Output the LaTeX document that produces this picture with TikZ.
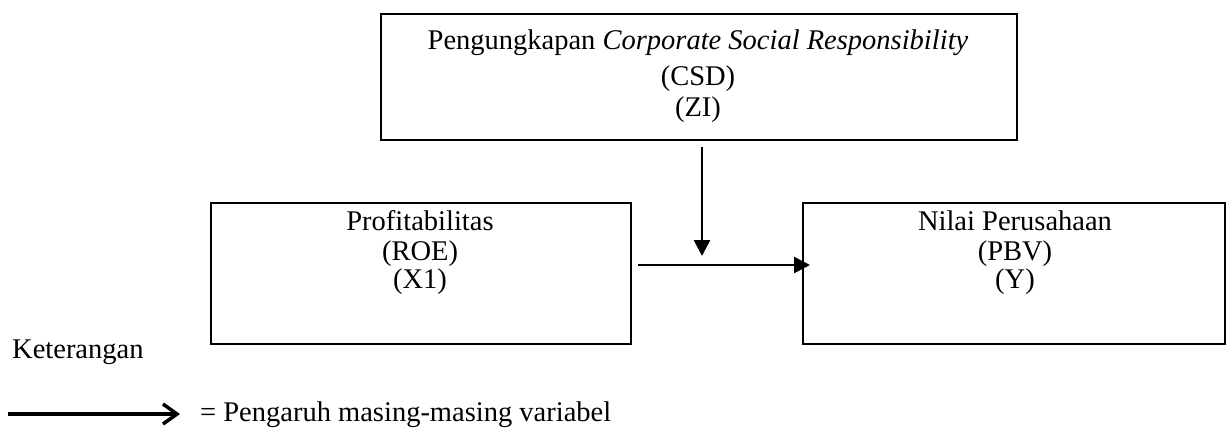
\documentclass[tikz,border=0pt]{standalone}
\usepackage{fontspec}
\setmainfont{Liberation Serif}
\usetikzlibrary{arrows.meta}
\tikzset{
  box/.style={draw=black, line width=2pt, anchor=north west, inner sep=0pt},
  txt/.style={anchor=base, inner sep=0pt, font=\fontsize{28.5}{30}\selectfont},
  conn/.style={line width=2.5pt, -{Triangle[length=16pt,width=16pt]}},
  legarrow/.style={line width=3.5pt, -{Straight Barb[length=14pt,width=20pt,line width=3.5pt]}}
}
\begin{document}
\begin{tikzpicture}[x=1pt,y=-1pt]
\useasboundingbox (0,0) rectangle (1226,428);
% boxes
\node[box, minimum width=636pt, minimum height=126pt] (zi) at (380,13) {};
\node[box, minimum width=420pt, minimum height=141pt] (x1) at (210,202) {};
\node[box, minimum width=422pt, minimum height=141pt] (y) at (802,202) {};
% texts
\node[txt] (zi1) at (698,49) {Pengungkapan \textit{Corporate Social Responsibility}};
\node[txt] (zi2) at (698,85) {(CSD)};
\node[txt] (zi3) at (698,116) {(ZI)};
\node[txt] (x11) at (420,230) {Profitabilitas};
\node[txt] (x12) at (420,260) {(ROE)};
\node[txt] (x13) at (420,288) {(X1)};
\node[txt] (y1) at (1015,230) {Nilai Perusahaan};
\node[txt] (y2) at (1015,260) {(PBV)};
\node[txt] (y3) at (1015,288) {(Y)};
% connectors
\coordinate (vs) at (702,147);
\coordinate (ve) at (702,256);
\coordinate (hs) at (638,265);
\coordinate (he) at (810,265);
\draw[conn] (vs) -- (ve);
\draw[conn] (hs) -- (he);
% legend
\node[txt, anchor=base west] (ket) at (12,358) {Keterangan};
\coordinate (ls) at (8,414);
\coordinate (le) at (180,414);
\draw[legarrow] (ls) -- (le);
\node[txt, anchor=base west] (legtxt) at (200,421) {= Pengaruh masing-masing variabel};
\end{tikzpicture}
\end{document}
